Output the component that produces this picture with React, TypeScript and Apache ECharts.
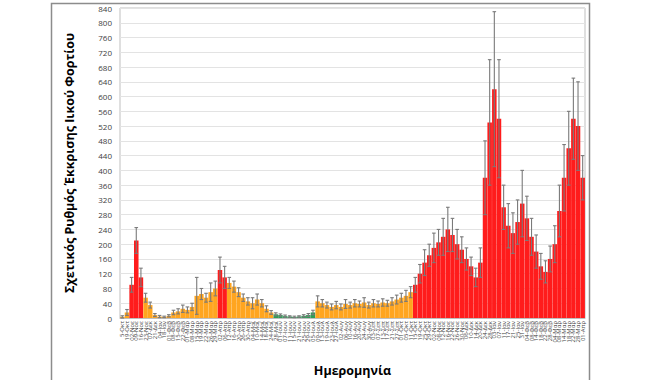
import React, { useEffect, useRef } from "react";
import * as echarts from "echarts";

const dates = [
  "5-Οκτ", "19-Οκτ", "02-Νοε", "09-Νοε", "16-Νοε", "23-Νοε", "07-Δεκ", "21-Δεκ", "04-Ιαν", "18-Ιαν",
  "01-Φεβ", "08-Φεβ", "15-Φεβ", "22-Φεβ", "01-Μαρ", "08-Μαρ", "15-Μαρ", "19-Μαρ", "22-Μαρ", "26-Μαρ",
  "29-Μαρ", "02-Απρ", "06-Απρ", "12-Απρ", "16-Απρ", "20-Απρ", "26-Απρ", "30-Απρ", "04-Μαΐ", "10-Μαΐ",
  "14-Μαΐ", "18-Μαΐ", "24-Μαΐ", "28-Μαΐ", "01-Ιουν", "07-Ιουν", "11-Ιουν", "15-Ιουν", "21-Ιουν", "25-Ιουν",
  "29-Ιουν", "05-Ιουλ", "09-Ιουλ", "13-Ιουλ", "19-Ιουλ", "23-Ιουλ", "27-Ιουλ", "02-Αυγ", "06-Αυγ", "10-Αυγ",
  "16-Αυγ", "20-Αυγ", "24-Αυγ", "30-Αυγ", "03-Σεπ", "07-Σεπ", "13-Σεπ", "17-Σεπ", "21-Σεπ", "27-Σεπ",
  "01-Οκτ", "05-Οκτ", "11-Οκτ", "15-Οκτ", "19-Οκτ", "25-Οκτ", "29-Οκτ", "02-Νοε", "08-Νοε", "12-Νοε",
  "16-Νοε", "22-Νοε", "26-Νοε", "30-Νοε", "06-Δεκ", "10-Δεκ", "14-Δεκ", "20-Δεκ", "24-Δεκ", "28-Δεκ",
  "03-Ιαν", "07-Ιαν", "11-Ιαν", "17-Ιαν", "21-Ιαν", "25-Ιαν", "31-Ιαν", "04-Φεβ", "08-Φεβ", "14-Φεβ",
  "18-Φεβ", "22-Φεβ", "28-Φεβ", "04-Μαρ", "08-Μαρ", "14-Μαρ", "18-Μαρ", "22-Μαρ", "28-Μαρ", "01-Απρ",
];

const values = [
  3, 15, 90, 210, 110, 55, 35, 8, 4, 3,
  6, 15, 18, 25, 22, 30, 60, 65, 55, 70,
  80, 130, 110, 95, 85, 70, 55, 45, 40, 50,
  40, 25, 15, 10, 8, 5, 4, 3, 4, 6,
  8, 15, 45, 40, 35, 30, 35, 30, 38, 35,
  40, 38, 42, 35, 40, 38, 42, 40, 45, 50,
  55, 60, 70, 90, 120, 150, 170, 190, 205, 220,
  240, 225, 200, 185, 160, 140, 110, 150, 380, 530,
  620, 540, 300, 250, 230, 260, 310, 270, 220, 180,
  140, 125, 160, 200, 290, 380, 460, 540, 520, 380,
];

const errors = [
  3, 8, 20, 35, 25, 12, 8, 4, 3, 2,
  3, 6, 7, 10, 8, 10, 50, 15, 12, 25,
  20, 35, 30, 15, 15, 12, 10, 10, 15, 15,
  10, 8, 5, 4, 3, 3, 2, 2, 2, 3,
  4, 6, 15, 10, 8, 8, 10, 8, 12, 8,
  10, 8, 13, 8, 10, 8, 10, 8, 10, 12,
  12, 15, 15, 20, 25, 35, 30, 40, 35, 50,
  60, 45, 40, 35, 30, 25, 25, 40, 100, 170,
  210, 160, 60, 60, 55, 60, 90, 60, 50, 45,
  35, 30, 35, 50, 70, 90, 100, 110, 120, 60,
];

const levels = [
  "o", "o", "r", "r", "r", "o", "o", "o", "o", "o",
  "o", "o", "o", "o", "o", "o", "o", "o", "o", "o",
  "o", "r", "r", "o", "o", "o", "o", "o", "o", "o",
  "o", "o", "o", "g", "g", "g", "g", "g", "g", "g",
  "g", "g", "o", "o", "o", "o", "o", "o", "o", "o",
  "o", "o", "o", "o", "o", "o", "o", "o", "o", "o",
  "o", "o", "o", "r", "r", "r", "r", "r", "r", "r",
  "r", "r", "r", "r", "r", "r", "r", "r", "r", "r",
  "r", "r", "r", "r", "r", "r", "r", "r", "r", "r",
  "r", "r", "r", "r", "r", "r", "r", "r", "r", "r",
];

const levelColors: Record<string, string> = {
  o: "#FFA51F",
  r: "#FF1C1C",
  g: "#2E9E57",
};

export default function App() {
  const ref = useRef<HTMLDivElement>(null);
  useEffect(() => {
    if (!ref.current) return;
    const chart = echarts.init(ref.current, null, { renderer: "svg", width: 660, height: 380 });
    const option = {
      animation: false,
      backgroundColor: "#ffffff",
      textStyle: { fontFamily: "Open Sans" },
      graphic: [
        {
          type: "rect",
          shape: { x: 51.5, y: 3.5, width: 538, height: 390 },
          style: { fill: "none", stroke: "#8c8c8c", lineWidth: 1.5 },
          silent: true,
          z: -1,
        },
      ],
      grid: {
        left: 120,
        right: 75,
        top: 8,
        bottom: 62,
        show: true,
        borderColor: "#bfbfbf",
        borderWidth: 1,
        containLabel: false,
        outerBoundsMode: "none",
      },
      xAxis: {
        type: "category",
        data: dates,
        boundaryGap: true,
        axisTick: { show: false },
        axisLine: { lineStyle: { color: "#bfbfbf" } },
        axisLabel: {
          rotate: 90,
          interval: 0,
          fontSize: 6,
          color: "#404040",
          margin: 3,
          fontFamily: "Open Sans",
        },
        name: "Ημερομηνία",
        nameLocation: "middle",
        nameGap: 46,
        nameTextStyle: { fontWeight: "bold", fontSize: 12.5, color: "#000", fontFamily: "Open Sans" },
      },
      yAxis: {
        type: "value",
        min: 0,
        max: 840,
        interval: 40,
        axisLine: { show: false },
        axisTick: { show: false },
        axisLabel: { fontSize: 8, color: "#404040", margin: 8, fontFamily: "Open Sans" },
        splitLine: { lineStyle: { color: "#e3e3e3", width: 1 } },
        name: "Σχετικός Ρυθμός Έκκρισης Ιικού Φορτίου",
        nameLocation: "middle",
        nameGap: 44,
        nameTextStyle: { fontWeight: "bold", fontSize: 12.5, color: "#000", fontFamily: "Open Sans" },
      },
      series: [
        {
          type: "bar",
          barCategoryGap: "3%",
          data: values.map((v, i) => ({
            value: v,
            itemStyle: { color: levelColors[levels[i]] },
          })),
          z: 2,
        },
        {
          type: "custom",
          z: 3,
          encode: { x: 0, y: 1 },
          data: values.map((v, i) => [i, v, errors[i]]),
          renderItem: (params: any, api: any) => {
            const i = api.value(0);
            const v = api.value(1);
            const e = api.value(2);
            const hi = api.coord([i, v + e]);
            const lo = api.coord([i, Math.max(0, v - e)]);
            const w = 1.8;
            const st = { stroke: "#7a7a7a", lineWidth: 1.1 };
            return {
              type: "group",
              children: [
                { type: "line", shape: { x1: hi[0], y1: hi[1], x2: lo[0], y2: lo[1] }, style: st },
                { type: "line", shape: { x1: hi[0] - w, y1: hi[1], x2: hi[0] + w, y2: hi[1] }, style: st },
                { type: "line", shape: { x1: lo[0] - w, y1: lo[1], x2: lo[0] + w, y2: lo[1] }, style: st },
              ],
            };
          },
        },
      ],
    };
    chart.setOption(option as any);
    return () => chart.dispose();
  }, []);
  return (
    <div
      ref={ref}
      style={{ position: "fixed", left: 0, top: 0, width: 660, height: 380, background: "#fff" }}
    />
  );
}
